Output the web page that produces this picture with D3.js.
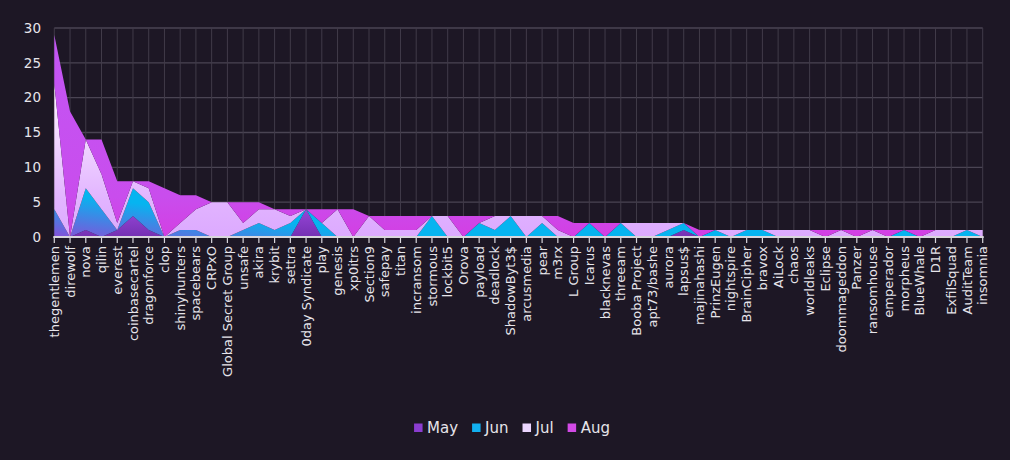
<!DOCTYPE html>
<html>
<head>
<meta charset="utf-8">
<script src="https://cdn.jsdelivr.net/npm/d3@7"></script>
<style>
  html, body { margin: 0; padding: 0; background: #1d1725; }
  svg { display: block; }
  text { font-family: "DejaVu Sans", sans-serif; fill: #e6e4ea; }
</style>
</head>
<body>
<div id="chart"></div>
<script>
const width = 1010;
const height = 460;

// groups on the x axis, in the order shown
const groups = [
  "thegentlemen", "direwolf", "nova", "qilin", "everest", "coinbasecartel",
  "dragonforce", "clop", "shinyhunters", "spacebears", "CRPxO",
  "Global Secret Group", "unsafe", "akira", "krybit", "settra",
  "0day Syndicate", "play", "genesis", "xp0itrs", "Section9", "safepay",
  "titan", "incransom", "stormous", "lockbit5", "Orova", "payload",
  "deadlock", "ShadowByt3$", "arcusmedia", "pear", "m3rx", "L Group",
  "Icarus", "blacknevas", "threeam", "Booba Project", "apt73/bashe",
  "aurora", "lapsus$", "majinahashi", "PrinzEugen", "nightspire",
  "BrainCipher", "bravox", "AiLock", "chaos", "worldleaks", "Eclipse",
  "doommageddon", "Panzer", "ransomhouse", "emperador", "morpheus",
  "BlueWhale", "D1R", "ExfilSquad", "AuditTeam", "insomnia"
];

// counts per month, same order as groups
const may = [0,0,1,0,1,3,1,0,0,0,0,0,0,0,0,0,4,0,0,0,0,0,0,0,0,0,0,0,0,0,
             0,0,0,0,0,0,0,0,0,0,1,0,0,0,0,0,0,0,0,0,0,0,0,0,0,0,0,0,0,0];
const jun = [4,0,6,4,0,4,4,0,1,1,0,0,1,2,1,2,0,2,0,0,0,0,0,0,3,0,0,2,1,3,
             0,2,0,0,2,0,2,0,0,1,1,0,1,0,1,1,0,0,0,0,0,0,0,0,1,0,0,0,1,0];
const jul = [18,0,7,5,1,1,2,0,1,3,5,5,1,2,3,1,0,0,4,0,3,1,1,1,0,3,0,0,2,0,
             3,1,1,0,0,0,0,2,2,1,0,0,0,1,0,0,1,1,1,0,1,0,1,0,0,0,1,1,0,1];
const aug = [7,18,0,5,6,0,1,7,4,2,0,0,3,1,0,1,0,2,0,4,0,2,2,2,0,0,3,1,0,0,
             0,0,2,2,0,2,0,0,0,0,0,1,0,0,0,0,0,0,0,1,0,1,0,1,0,1,0,0,0,0];

const months = ["May", "Jun", "Jul", "Aug"];
const yTicks = [0, 5, 10, 15, 20, 25, 30];

const legendColor = { May: "#8b3dd0", Jun: "#12b0f0", Jul: "#ecd6ff", Aug: "#d24ae6" };

const plotLeft = 54.3;
const plotRight = 982.7;
const plotTop = 28;
const plotBottom = 237;

const rows = groups.map((g, i) => ({
  group: g, May: may[i], Jun: jun[i], Jul: jul[i], Aug: aug[i]
}));

const series = d3.stack().keys(months)(rows);

const x = d3.scalePoint().domain(groups).range([plotLeft, plotRight]).padding(0);
const y = d3.scaleLinear().domain([0, 30]).range([plotBottom, plotTop]);

const svg = d3.select("#chart")
  .append("svg")
  .attr("width", width)
  .attr("height", height);

svg.append("rect")
  .attr("width", width)
  .attr("height", height)
  .attr("fill", "#1d1725");

// gradients, roughly as they look in the picture
const defs = svg.append("defs");

const addGradient = (id, coords, stops) => {
  const g = defs.append("linearGradient")
    .attr("id", id)
    .attr("x1", coords[0]).attr("y1", coords[1])
    .attr("x2", coords[2]).attr("y2", coords[3]);
  stops.forEach(([o, c]) => g.append("stop").attr("offset", o).attr("stop-color", c));
};

addGradient("g-May", [0, 1, 0, 0], [[0, "#7430b2"], [1, "#9646d8"]]);
addGradient("g-Jun", [0, 1, 0.318, 0.871], [[0, "#8450d8"], [1, "#06b4f0"]]);
addGradient("g-Jul", [0, 1, 0, 0], [[0, "#dcaaff"], [0.25, "#e2b4ff"], [1, "#fff8ff"]]);
addGradient("g-Aug", [0, 1, 0, 0], [[0, "#d33fe3"], [0.2, "#c94ded"], [1, "#c256f4"]]);

// grid
const grid = svg.append("g");
grid.selectAll("line.h")
  .data(yTicks)
  .join("line")
  .attr("class", "h")
  .attr("x1", plotLeft).attr("x2", plotRight)
  .attr("y1", (d) => y(d)).attr("y2", (d) => y(d))
  .attr("stroke", "#4a4453")
  .attr("stroke-width", 1.3);

grid.selectAll("line.v")
  .data(groups)
  .join("line")
  .attr("class", "v")
  .attr("x1", (d) => x(d)).attr("x2", (d) => x(d))
  .attr("y1", plotTop).attr("y2", plotBottom)
  .attr("stroke", "#413b49")
  .attr("stroke-width", 1);

// stacked areas
const area = d3.area()
  .x((d) => x(d.data.group))
  .y0((d) => y(d[0]))
  .y1((d) => y(d[1]));

svg.append("g")
  .selectAll("path")
  .data(series)
  .join("path")
  .attr("d", area)
  .attr("fill", (d) => `url(#g-${d.key})`);

// x axis
const xAxis = svg.append("g").attr("transform", `translate(0,${plotBottom})`);
xAxis.append("line")
  .attr("x1", plotLeft - 1).attr("x2", plotRight + 1)
  .attr("stroke", "#d8d6dc")
  .attr("stroke-width", 2);

xAxis.selectAll("line.tick")
  .data(groups)
  .join("line")
  .attr("class", "tick")
  .attr("x1", (d) => x(d)).attr("x2", (d) => x(d))
  .attr("y1", 0).attr("y2", 6)
  .attr("stroke", "#d8d6dc")
  .attr("stroke-width", 1.2);

xAxis.selectAll("text")
  .data(groups)
  .join("text")
  .attr("transform", (d) => `translate(${x(d)},9) rotate(-90)`)
  .attr("text-anchor", "end")
  .attr("dy", "0.35em")
  .style("font-size", "13px")
  .text((d) => d);

// y labels
svg.append("g")
  .selectAll("text")
  .data(yTicks)
  .join("text")
  .attr("x", 41)
  .attr("y", (d) => y(d))
  .attr("dy", "0.35em")
  .attr("text-anchor", "end")
  .style("font-size", "13.5px")
  .text((d) => d);

// legend
const legend = svg.append("g").attr("transform", "translate(0,428)");
const items = legend.selectAll("g")
  .data(months)
  .join("g");

items.append("rect")
  .attr("y", -4.5)
  .attr("width", 8.5)
  .attr("height", 8.5)
  .attr("fill", (d) => legendColor[d]);

items.append("text")
  .attr("x", 13)
  .attr("dy", "0.36em")
  .style("font-size", "15px")
  .text((d) => d);

let pos = 0;
const offsets = [];
items.each(function () {
  offsets.push(pos);
  const w = d3.select(this).select("text").node().getComputedTextLength();
  pos += 13 + w + 14;
});
const total = pos - 14;
const start = 512 - total / 2;
items.attr("transform", (d, i) => `translate(${start + offsets[i]},0)`);
</script>
</body>
</html>
